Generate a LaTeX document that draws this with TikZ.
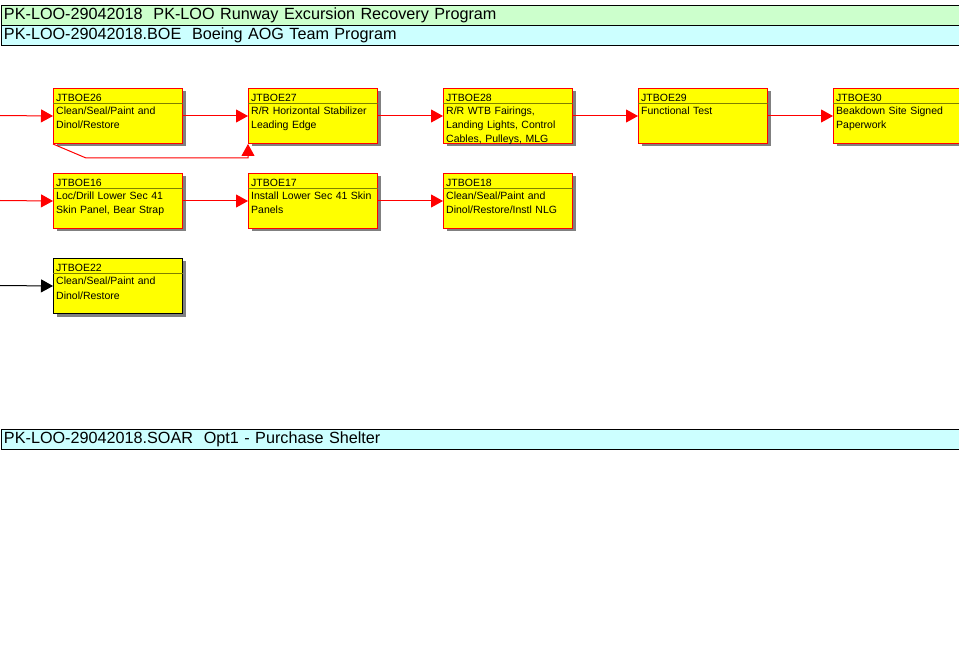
\documentclass[tikz,border=0pt]{standalone}
\usepackage{fontspec}
\setmainfont{Liberation Sans}
\usetikzlibrary{arrows.meta,shadows}
\definecolor{progGreen}{HTML}{CCFFCC}
\definecolor{progCyan}{HTML}{CCFFFF}
\definecolor{taskFill}{HTML}{FFFF00}
\definecolor{taskShade}{HTML}{808080}
\definecolor{titleRule}{HTML}{808000}

\begin{document}
\begin{tikzpicture}[x=1pt,y=-1pt]
  \tikzstyle{band}=[draw=black,line width=1pt,anchor=north west,minimum height=20pt,inner xsep=3pt,inner ysep=0pt,text width=980pt,align=left,font=\fontsize{16.2}{16}\selectfont]
  \tikzstyle{task}=[draw=red,fill=taskFill,line width=1pt,anchor=north west,minimum width=129pt,minimum height=55pt,inner sep=0pt,drop shadow={shadow xshift=3pt,shadow yshift=-3pt,fill=taskShade,opacity=1}]
  \tikzstyle{tasktitle}=[anchor=base west,inner sep=0pt,font=\fontsize{10.5}{14}\selectfont]
  \tikzstyle{taskbody}=[anchor=north west,inner sep=0pt,text width=126pt,align=left,font=\fontsize{10.5}{14}\selectfont]
  \tikzstyle{titlerule}=[draw=titleRule,line width=0.8pt]
  \tikzstyle{link}=[draw=red,line width=1pt,-{Triangle[length=12pt,width=13pt]}]
  \useasboundingbox (0,0) rectangle (959,647);
  \clip (0,0) rectangle (959,647);
  \fill[white] (0,0) rectangle (959,647);
  % programme bands
  \node[band,fill=progGreen] (prog) at (0.5,5) {PK-LOO-29042018\ \ PK-LOO Runway Excursion Recovery Program};
  \node[band,fill=progCyan] (boe) at (0.5,25) {PK-LOO-29042018.BOE\ \ Boeing AOG Team Program};
  \node[band,fill=progCyan] (soar) at (0.5,429) {PK-LOO-29042018.SOAR\ \ Opt1 - Purchase Shelter};
  % first row
  \node[task] (b26) at (53,88) {};
  \draw[titlerule] ([yshift=-15pt]b26.north west) -- ([yshift=-15pt]b26.north east);
  \node[tasktitle] (t26) at ([shift={(3pt,-13.5pt)}]b26.north west) {JTBOE26};
  \node[taskbody] (d26) at ([shift={(3pt,-17pt)}]b26.north west) {\strut Clean/Seal/Paint and\\Dinol/Restore};
  \node[task] (b27) at (248,88) {};
  \draw[titlerule] ([yshift=-15pt]b27.north west) -- ([yshift=-15pt]b27.north east);
  \node[tasktitle] (t27) at ([shift={(3pt,-13.5pt)}]b27.north west) {JTBOE27};
  \node[taskbody] (d27) at ([shift={(3pt,-17pt)}]b27.north west) {\strut R/R Horizontal Stabilizer\\Leading Edge};
  \node[task] (b28) at (443,88) {};
  \draw[titlerule] ([yshift=-15pt]b28.north west) -- ([yshift=-15pt]b28.north east);
  \node[tasktitle] (t28) at ([shift={(3pt,-13.5pt)}]b28.north west) {JTBOE28};
  \begin{scope}
    \clip ([shift={(0.5pt,-0.5pt)}]b28.north west) rectangle ([shift={(-0.5pt,0.5pt)}]b28.south east);
    \node[taskbody] (d28) at ([shift={(3pt,-17pt)}]b28.north west) {\strut R/R WTB Fairings,\\Landing Lights, Control\\Cables, Pulleys, MLG};
  \end{scope}
  \node[task] (b29) at (638,88) {};
  \draw[titlerule] ([yshift=-15pt]b29.north west) -- ([yshift=-15pt]b29.north east);
  \node[tasktitle] (t29) at ([shift={(3pt,-13.5pt)}]b29.north west) {JTBOE29};
  \node[taskbody] (d29) at ([shift={(3pt,-17pt)}]b29.north west) {\strut Functional Test};
  \node[task] (b30) at (833,88) {};
  \draw[titlerule] ([yshift=-15pt]b30.north west) -- ([yshift=-15pt]b30.north east);
  \node[tasktitle] (t30) at ([shift={(3pt,-13.5pt)}]b30.north west) {JTBOE30};
  \node[taskbody] (d30) at ([shift={(3pt,-17pt)}]b30.north west) {\strut Beakdown Site Signed\\Paperwork};
  % second row
  \node[task] (b16) at (53,173) {};
  \draw[titlerule] ([yshift=-15pt]b16.north west) -- ([yshift=-15pt]b16.north east);
  \node[tasktitle] (t16) at ([shift={(3pt,-13.5pt)}]b16.north west) {JTBOE16};
  \node[taskbody] (d16) at ([shift={(3pt,-17pt)}]b16.north west) {\strut Loc/Drill Lower Sec 41\\Skin Panel, Bear Strap};
  \node[task] (b17) at (248,173) {};
  \draw[titlerule] ([yshift=-15pt]b17.north west) -- ([yshift=-15pt]b17.north east);
  \node[tasktitle] (t17) at ([shift={(3pt,-13.5pt)}]b17.north west) {JTBOE17};
  \node[taskbody] (d17) at ([shift={(3pt,-17pt)}]b17.north west) {\strut Install Lower Sec 41 Skin\\Panels};
  \node[task] (b18) at (443,173) {};
  \draw[titlerule] ([yshift=-15pt]b18.north west) -- ([yshift=-15pt]b18.north east);
  \node[tasktitle] (t18) at ([shift={(3pt,-13.5pt)}]b18.north west) {JTBOE18};
  \node[taskbody] (d18) at ([shift={(3pt,-17pt)}]b18.north west) {\strut Clean/Seal/Paint and\\Dinol/Restore/Instl NLG};
  % third row
  \node[task,draw=black] (b22) at (53,258) {};
  \draw[titlerule] ([yshift=-15pt]b22.north west) -- ([yshift=-15pt]b22.north east);
  \node[tasktitle] (t22) at ([shift={(3pt,-13.5pt)}]b22.north west) {JTBOE22};
  \node[taskbody] (d22) at ([shift={(3pt,-17pt)}]b22.north west) {\strut Clean/Seal/Paint and\\Dinol/Restore};
  % links
  \coordinate (in26) at (0,115.5);
  \coordinate (in16) at (0,200.5);
  \coordinate (in22) at (0,285.5);
  \coordinate (bend) at (86,158);
  \draw[link] (in26) -- (b26.west);
  \draw[link] (b26.east) -- (b27.west);
  \draw[link] (b27.east) -- (b28.west);
  \draw[link] (b28.east) -- (b29.west);
  \draw[link] (b29.east) -- (b30.west);
  \draw[link] (b26.south west) -- (bend) -- (bend -| b27.south west) -- (b27.south west);
  \draw[link] (in16) -- (b16.west);
  \draw[link] (b16.east) -- (b17.west);
  \draw[link] (b17.east) -- (b18.west);
  \draw[link,draw=black] (in22) -- (b22.west);
\end{tikzpicture}
\end{document}
